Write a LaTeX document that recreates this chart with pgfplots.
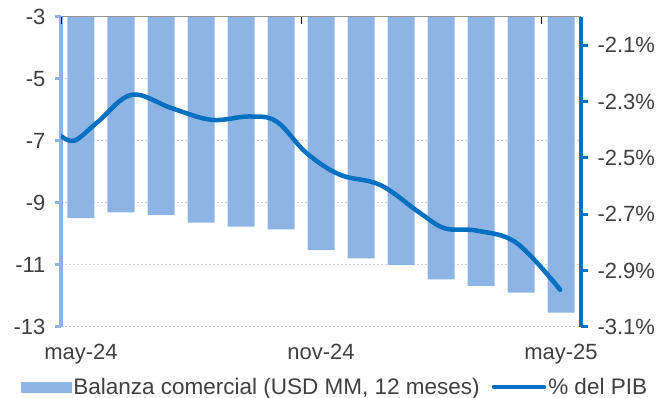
\documentclass[border=0pt]{standalone}
\usepackage{pgfplots}
\pgfplotsset{compat=1.18}
\usepackage{fontspec}
\setmainfont{Liberation Sans}
\definecolor{barblue}{HTML}{8EB4E3}
\definecolor{lineblue}{HTML}{0070C0}
\definecolor{txt}{HTML}{404040}
\definecolor{gridc}{HTML}{D0D0D0}
\begin{document}
\begin{tikzpicture}
\begin{axis}[
  at={(0,0)}, anchor=south west,
  scale only axis, width=520pt, height=310pt,
  xmin=0, xmax=13, ymin=-13, ymax=-3,
  axis y line*=left, axis x line*=bottom,
  x axis line style={draw=none},
  xtick={0.5,6.5,12.5}, xticklabels={may-24,nov-24,may-25},
  major x tick style={draw=none},
  xticklabel shift=8pt,
  ytick={-13,-11,-9,-7,-5,-3},
  y axis line style={draw=barblue, line width=3.5pt, -},
  ytick style={draw=barblue, line width=3pt},
  ytick align=outside, major tick length=6pt,
  yticklabel shift=6pt,
  ymajorgrids, grid style={gridc, line width=1pt, dash pattern=on 2pt off 2pt},
  tick label style={font=\fontsize{22}{26}\selectfont, text=txt},
  /pgf/number format/assume math mode=true,
  ybar, bar width=27pt,
]
\addplot[fill=barblue, draw=none] coordinates {
 (0.5,-9.49) (1.5,-9.30) (2.5,-9.39) (3.5,-9.63) (4.5,-9.76) (5.5,-9.85)
 (6.5,-10.52) (7.5,-10.79) (8.5,-11.00) (9.5,-11.46) (10.5,-11.67)
 (11.5,-11.89) (12.5,-12.54)
};
\end{axis}
\begin{axis}[
  at={(0,0)}, anchor=south west,
  scale only axis, width=520pt, height=310pt,
  xmin=0, xmax=13, ymin=-3.1, ymax=-2.0,
  axis y line*=right, axis x line*=top,
  x axis line style={draw=gray!85, line width=1pt, -},
  xtick={0,6,12}, xticklabels={},
  major x tick style={black, line width=0.8pt},
  xtick align=inside,
  ytick={-3.1,-2.9,-2.7,-2.5,-2.3,-2.1},
  y axis line style={draw=lineblue, line width=4.5pt, -},
  ytick style={draw=lineblue, line width=3pt},
  ytick align=outside, major tick length=7pt,
  yticklabel shift=6pt,
  yticklabel={\pgfmathprintnumber[fixed,fixed zerofill,precision=1]{\tick}\%},
  tick label style={font=\fontsize{22}{26}\selectfont, text=txt},
  /pgf/number format/assume math mode=true,
  legend style={at={([yshift=-60pt]axis description cs:0.527,0)}, anchor=center,
    draw=none, fill=none, font=\fontsize{22.5}{26}\selectfont, text=txt,
    /tikz/every even column/.append style={column sep=10pt}},
  legend columns=2, legend cell align=left,
]
\addlegendimage{legend image code/.code={\fill[barblue] (0pt,-5pt) rectangle (50pt,5pt);}}
\addlegendentry{Balanza comercial (USD MM, 12 meses)}
\addplot[lineblue, line width=4.5pt, line cap=round, smooth, tension=0.6,
  legend image code/.code={\draw[lineblue, line width=4.5pt, line cap=round] (2pt,0pt) -- (52pt,0pt);}]
  coordinates {
 (0.02,-2.424) (0.35,-2.438) (0.93,-2.371) (1.77,-2.276) (2.77,-2.324)
 (3.77,-2.365) (4.7,-2.353) (5.39,-2.371) (6.14,-2.483) (6.98,-2.560)
 (7.98,-2.596) (8.98,-2.696) (9.6,-2.750) (10.39,-2.758) (11.39,-2.802)
 (12.48,-2.968)
};
\addlegendentry{\% del PIB}
\end{axis}
\pgfresetboundingbox
\path[use as bounding box] (-61pt,-71pt) rectangle (601pt,327pt);
\end{tikzpicture}
\end{document}
